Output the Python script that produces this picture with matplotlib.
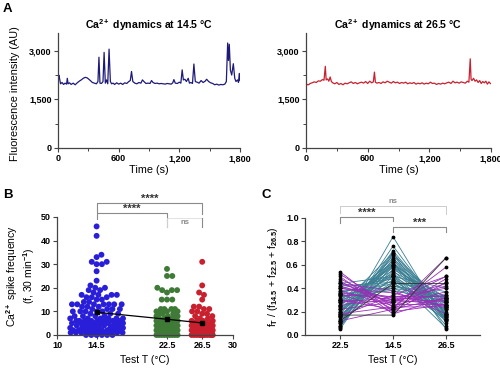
import numpy as np
import matplotlib
matplotlib.use("Agg")
import matplotlib.pyplot as plt
from matplotlib.ticker import FixedLocator

plt.rcParams['font.family'] = ['Liberation Sans', 'DejaVu Sans']
plt.rcParams['font.weight'] = 'bold'
plt.rcParams['mathtext.fontset'] = 'custom'
plt.rcParams['mathtext.rm'] = 'Liberation Sans:bold'
plt.rcParams['mathtext.it'] = 'Liberation Sans:bold'
plt.rcParams['mathtext.bf'] = 'Liberation Sans:bold'

# ---- panel A: Ca2+ traces ----
t_14 = [0, 8, 15, 25, 40, 55, 70, 85, 92, 100, 115, 130, 150, 170, 190, 210, 230, 250, 270, 290,
        305, 320, 340, 360, 380, 395, 405, 415, 430, 445, 456, 468, 480, 492, 505, 518, 530, 545,
        560, 580, 600, 620, 640, 660, 680, 700, 715, 727, 740, 760, 780, 800, 820, 835, 850, 870,
        890, 910, 925, 940, 960, 980, 1000, 1020, 1040, 1060, 1080, 1100, 1120, 1135, 1146, 1160,
        1180, 1200, 1215, 1228, 1240, 1255, 1270, 1288, 1300, 1315, 1330, 1344, 1358, 1375, 1395,
        1415, 1435, 1455, 1470, 1490, 1510, 1530, 1550, 1570, 1590, 1610, 1630, 1650, 1665, 1678,
        1686, 1694, 1705, 1718, 1734, 1748, 1760, 1775, 1785, 1793, 1800]
f_14 = [2050, 2250, 2150, 1980, 2020, 1960, 2000, 1970, 2150, 1980, 2010, 1960, 2000, 1950, 2010,
        2060, 2100, 2150, 2180, 2160, 2120, 2080, 2020, 2000, 1980, 2050, 2800, 2000, 1990, 2050,
        2950, 2000, 2100, 1980, 3050, 2050, 1980, 2000, 1960, 2010, 1970, 2000, 1960, 2010, 1990,
        2050, 2080, 2360, 2050, 2000, 1980, 2020, 2000, 2100, 2050, 1990, 2000, 1990, 2080, 2020,
        1990, 2000, 1980, 1990, 1980, 1970, 1990, 1980, 1970, 2010, 2110, 2000, 1990, 2030, 2000,
        2410, 2100, 2120, 2050, 2150, 2000, 2020, 1990, 2590, 2050, 2030, 2000, 2080, 2020, 2060,
        2120, 2050, 2010, 1990, 1950, 1970, 1940, 1960, 1950, 1970, 2050, 3240, 2700, 3200, 2400,
        2250, 2600, 2150, 2050, 2100, 2020, 2300, 2080]

t_26 = [0, 10, 25, 40, 60, 80, 100, 120, 140, 160, 175, 188, 196, 210, 222, 235, 247, 260, 280,
        300, 320, 340, 360, 380, 400, 420, 440, 460, 480, 500, 520, 540, 560, 580, 600, 620, 640,
        655, 666, 675, 690, 710, 730, 750, 770, 790, 810, 830, 850, 870, 890, 910, 930, 950, 970,
        990, 1010, 1030, 1050, 1070, 1090, 1110, 1130, 1150, 1170, 1190, 1210, 1230, 1250, 1270,
        1290, 1310, 1330, 1350, 1370, 1390, 1410, 1430, 1450, 1470, 1490, 1510, 1530, 1550, 1570,
        1585, 1598, 1606, 1615, 1630, 1645, 1660, 1675, 1690, 1705, 1720, 1735, 1750, 1765, 1780,
        1790, 1800]
f_26 = [1900, 1960, 1950, 1990, 2010, 2040, 2020, 2070, 2060, 2110, 2090, 2520, 2100, 2130, 2060,
        2190, 2050, 2010, 1980, 2020, 1960, 1990, 1950, 2000, 1980, 2010, 2040, 1990, 2020, 1980,
        2010, 2030, 2000, 2050, 1990, 2060, 2010, 2040, 2340, 2030, 2000, 2020, 1990, 2040, 2010,
        2060, 2030, 2000, 2050, 2010, 2030, 1990, 2020, 2000, 2030, 1980, 2010, 1990, 2020, 1970,
        2000, 1980, 2010, 1970, 2000, 1980, 2030, 1990, 2000, 1960, 1990, 1970, 2000, 1980, 2010,
        2030, 1990, 2060, 2010, 2030, 2000, 2040, 2020, 2000, 2060, 2030, 2750, 2120, 2080, 2150,
        2060, 2100, 2020, 2080, 1990, 2050, 2010, 2060, 1970, 2040, 2000, 1980]

# ---- panel B: spike frequency per cell ----
temps_b = [14.5, 22.5, 26.5]
freq_14 = ([46, 42, 34, 33, 31, 31, 30, 30, 27, 23, 21, 20, 20, 19, 19, 18, 17, 17, 17, 17, 16, 16,
            16, 15, 15, 14, 14] + [13] * 7 + [12] * 3 + [11] * 4 + [10] * 5 + [9] * 3 + [8] * 4 +
           [7] * 6 + [6] * 8 + [5] * 8 + [4] * 7 + [3] * 8 + [2] * 9 + [1] * 10 + [0] * 6)
freq_22 = ([28, 25, 25, 20, 19, 19, 19, 18, 15, 15, 15] + [11] * 4 + [10] * 3 + [9] * 3 + [8] * 3 +
           [7] * 4 + [6] * 4 + [5] * 5 + [4] * 5 + [3] * 6 + [2] * 7 + [1] * 8 + [0] * 9)
freq_26 = ([31, 21, 18, 17, 15, 12, 12, 11, 11, 10, 10, 9, 9, 8, 8, 7, 7] + [6] * 4 + [5] * 4 +
           [4] * 5 + [3] * 5 + [2] * 6 + [1] * 9 + [0] * 12)

# ---- panel C: normalised frequency per cell (22.5, 14.5, 26.5) ----
c_labels = ['22.5', '14.5', '26.5']
teal_22 = [0.06, 0.08, 0.10, 0.12, 0.05, 0.15, 0.20, 0.18, 0.22, 0.25, 0.08, 0.28, 0.12, 0.30, 0.16,
           0.35, 0.20, 0.26, 0.40, 0.22, 0.32, 0.18, 0.34, 0.30, 0.24, 0.38, 0.28, 0.33, 0.20, 0.14,
           0.36, 0.10, 0.42, 0.44, 0.25, 0.30, 0.07, 0.16]
teal_14 = [0.84, 0.76, 0.72, 0.70, 0.69, 0.68, 0.66, 0.64, 0.62, 0.60, 0.60, 0.58, 0.56, 0.55, 0.54,
           0.52, 0.52, 0.50, 0.48, 0.47, 0.46, 0.45, 0.44, 0.42, 0.42, 0.40, 0.40, 0.38, 0.60, 0.62,
           0.50, 0.50, 0.45, 0.50, 0.70, 0.62, 0.65, 0.58]
teal_26 = [0.10, 0.16, 0.18, 0.18, 0.26, 0.17, 0.14, 0.18, 0.16, 0.15, 0.32, 0.14, 0.32, 0.15, 0.30,
           0.13, 0.28, 0.24, 0.12, 0.31, 0.22, 0.37, 0.22, 0.28, 0.34, 0.22, 0.32, 0.29, 0.20, 0.24,
           0.14, 0.40, 0.13, 0.06, 0.05, 0.08, 0.28, 0.26]
purple_22 = [0.54, 0.52, 0.50, 0.48, 0.46, 0.44, 0.42, 0.40, 0.38, 0.36, 0.30, 0.28, 0.34, 0.12,
             0.18, 0.22, 0.26, 0.16, 0.30, 0.35, 0.40, 0.44]
purple_14 = [0.20, 0.24, 0.18, 0.26, 0.22, 0.30, 0.28, 0.32, 0.25, 0.30, 0.28, 0.32, 0.33, 0.22,
             0.24, 0.28, 0.30, 0.34, 0.22, 0.20, 0.36, 0.38]
purple_26 = [0.26, 0.24, 0.32, 0.26, 0.32, 0.26, 0.30, 0.28, 0.37, 0.34, 0.42, 0.40, 0.33, 0.66,
             0.58, 0.50, 0.44, 0.50, 0.48, 0.45, 0.24, 0.18]
dark_22 = [0.17, 0.12]
dark_14 = [0.17, 0.44]
dark_26 = [0.66, 0.44]

blue, green, red = '#2a1fd8', '#3f7a36', '#c8202e'
teal, purple = '#3b7f93', '#9a2cb8'
spine_c = '#444444'

fig = plt.figure(figsize=(5.0, 3.68), dpi=100)


def style(ax):
    for s in ['top', 'right']:
        ax.spines[s].set_visible(False)
    for s in ['left', 'bottom']:
        ax.spines[s].set_color(spine_c)
        ax.spines[s].set_linewidth(0.9)
    ax.tick_params(direction='out', length=3, width=0.8, color=spine_c, labelsize=6.5, pad=1.5)
    ax.tick_params(which='minor', direction='out', length=2, width=0.7, color=spine_c)


def swarm(center, vals, half_w, px_x, px_y, diam):
    # simple beeswarm: closest free spot to the centre, capped at half_w
    order = np.argsort(vals, kind='stable')
    placed = []
    xs = np.zeros(len(vals))
    cands = np.arange(0, half_w + 1e-9, 0.05)
    cands = np.concatenate([[0.0], np.ravel(np.column_stack([cands[1:], -cands[1:]]))])
    for i in order:
        y = vals[i]
        best, best_d = 0.0, -1.0
        for c in cands:
            if placed:
                p = np.array(placed)
                d = np.min(np.hypot((p[:, 0] - c) * px_x, (p[:, 1] - y) * px_y))
            else:
                d = 1e9
            if d >= diam:
                best = c
                break
            if d > best_d:
                best, best_d = c, d
        placed.append((best, y))
        xs[i] = center + best
    return xs


# panel A
axA1 = fig.add_axes([0.116, 0.598, 0.364, 0.3125])
axA2 = fig.add_axes([0.612, 0.598, 0.370, 0.3125])
for ax, t, f, col, ttl in [(axA1, t_14, f_14, '#1e1a78', '14.5'), (axA2, t_26, f_26, red, '26.5')]:
    ax.plot(t, f, color=col, lw=0.9)
    ax.set_xlim(0, 1800)
    ax.set_ylim(0, 3550)
    ax.set_xticks([0, 600, 1200, 1800])
    ax.set_xticklabels(['0', '600', '1,200', '1,800'])
    ax.xaxis.set_minor_locator(FixedLocator([300, 900, 1500]))
    ax.set_yticks([0, 1500, 3000])
    ax.set_yticklabels(['0', '1,500', '3,000'])
    ax.yaxis.set_minor_locator(FixedLocator([750, 2250]))
    style(ax)
    ax.set_title('Ca$^{2+}$ dynamics at ' + ttl + ' °C', fontsize=7.6, fontweight='bold', pad=3)
    ax.set_xlabel('Time (s)', fontsize=7.8)
    ax.xaxis.set_label_coords(0.5, -0.15)
axA1.set_ylabel('Fluorescence intensity (AU)', fontsize=7.8)
axA1.yaxis.set_label_coords(-0.21, 0.47)

# panel B
axB = fig.add_axes([0.114, 0.0897, 0.352, 0.3207])
groups = [freq_14, freq_22, freq_26]
cols = [blue, green, red]
half_ws = [3.0, 1.2, 1.2]
for temp, vals, col, hw in zip(temps_b, groups, cols, half_ws):
    vals = np.array(vals, dtype=float)
    xs = swarm(temp, vals, hw, 8.8, 2.36, 5.0)
    axB.scatter(xs, vals, s=18, color=col, edgecolors='none', clip_on=False, zorder=2)
means = [np.mean(g) for g in groups]
axB.plot(temps_b, means, color='black', lw=0.9, marker='s', ms=2.5, zorder=3)
axB.set_xlim(10, 30)
axB.set_ylim(0, 50)
axB.set_xticks([10, 14.5, 22.5, 26.5, 30])
axB.set_xticklabels(['10', '14.5', '22.5', '26.5', '30'])
axB.set_yticks([0, 10, 20, 30, 40, 50])
style(axB)
axB.set_xlabel('Test T (°C)', fontsize=7.5)
axB.xaxis.set_label_coords(0.5, -0.17)
axB.set_ylabel('Ca$^{2+}$ spike frequency\n(f, 30 min$^{-1}$)', fontsize=7.5, linespacing=1.1)
axB.yaxis.set_label_coords(-0.115, 0.5)

brk = dict(color='#8a8a8a', lw=0.8, clip_on=False)
axB.plot([14.5, 14.5, 26.5, 26.5], [52.1, 55.9, 55.9, 51.3], **brk)
axB.plot([14.5, 14.5, 22.5, 22.5], [49.2, 51.7, 51.7, 45.8], **brk)
axB.plot([22.5, 22.5, 26.5, 26.5], [45.8, 49.6, 49.6, 45.8], color='#dddddd', lw=0.6, clip_on=False)
axB.plot([26.5, 26.5], [49.6, 45.8], color='#8a8a8a', lw=0.8, clip_on=False)
axB.text(20.5, 55.6, '****', ha='center', va='bottom', fontsize=8, color='#333333')
axB.text(18.5, 51.4, '****', ha='center', va='bottom', fontsize=8, color='#333333')
axB.text(24.5, 47.8, 'ns', ha='center', va='center', fontsize=5.5, color='#888888')

# panel C
axC = fig.add_axes([0.61, 0.0897, 0.35, 0.318])
xpos = [1, 2, 3]
for a, b, c in zip(teal_22, teal_14, teal_26):
    axC.plot(xpos, [a, b, c], color=teal, lw=0.6, zorder=2)
for a, b, c in zip(purple_22, purple_14, purple_26):
    axC.plot(xpos, [a, b, c], color=purple, lw=0.6, zorder=2)
for a, b, c in zip(dark_22, dark_14, dark_26):
    axC.plot(xpos, [a, b, c], color='#333333', lw=0.6, zorder=2)
for i, arrs in enumerate([(teal_22, purple_22, dark_22), (teal_14, purple_14, dark_14),
                          (teal_26, purple_26, dark_26)]):
    ys = np.concatenate([np.array(a) for a in arrs])
    axC.scatter(np.full(len(ys), xpos[i]), ys, s=3, color='black', zorder=3, clip_on=False)
axC.set_xlim(0.34, 3.64)
axC.set_ylim(0, 1.0)
axC.set_xticks(xpos)
axC.set_xticklabels(c_labels)
axC.set_yticks([0, 0.2, 0.4, 0.6, 0.8, 1.0])
axC.set_yticklabels(['0.0', '0.2', '0.4', '0.6', '0.8', '1.0'])
style(axC)
axC.set_xlabel('Test T (°C)', fontsize=7.5)
axC.xaxis.set_label_coords(0.5, -0.17)
axC.set_ylabel('f$_{\\rm T}$ / (f$_{14.5}$ + f$_{22.5}$ + f$_{26.5}$)', fontsize=7.5)
axC.yaxis.set_label_coords(-0.14, 0.5)

axC.plot([1, 1, 3, 3], [1.04, 1.10, 1.10, 1.03], color='#cccccc', lw=0.7, clip_on=False)
axC.plot([1, 1, 2, 2], [0.96, 1.01, 1.01, 0.97], **brk)
axC.plot([2, 2, 3, 3], [0.88, 0.92, 0.92, 0.88], **brk)
axC.text(2, 1.11, 'ns', ha='center', va='bottom', fontsize=5.5, color='#888888')
axC.text(1.5, 1.005, '****', ha='center', va='bottom', fontsize=8, color='#333333')
axC.text(2.5, 0.915, '***', ha='center', va='bottom', fontsize=8, color='#333333')

# panel letters
fig.text(0.006, 0.975, 'A', fontsize=9.5, fontweight='bold', va='center')
fig.text(0.006, 0.47, 'B', fontsize=9.5, fontweight='bold', va='center')
fig.text(0.522, 0.47, 'C', fontsize=9.5, fontweight='bold', va='center')

fig.savefig('out.png', dpi=100)
